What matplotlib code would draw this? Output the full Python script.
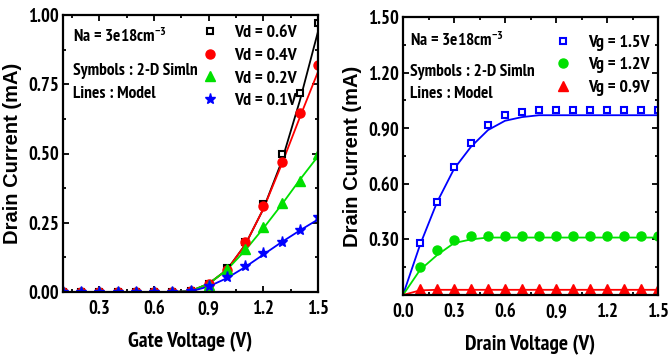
import matplotlib
matplotlib.use("Agg")
import matplotlib.pyplot as plt
from matplotlib.ticker import MultipleLocator, FixedLocator, FormatStrFormatter
from matplotlib import font_manager

# ---------------- data ----------------
vg = [0.1, 0.2, 0.3, 0.4, 0.5, 0.6, 0.7, 0.8, 0.9, 1.0, 1.1, 1.2, 1.3, 1.4, 1.5]
sim_vd06 = [0.0, 0.0, 0.0, 0.0, 0.0, 0.0, 0.0, 0.005, 0.03, 0.085, 0.18, 0.318, 0.50, 0.72, 0.97]
sim_vd04 = [0.0, 0.0, 0.0, 0.0, 0.0, 0.0, 0.0, 0.005, 0.03, 0.08, 0.18, 0.31, 0.47, 0.645, 0.82]
sim_vd02 = [0.0, 0.0, 0.0, 0.0, 0.0, 0.0, 0.0, 0.005, 0.025, 0.083, 0.155, 0.235, 0.32, 0.40, 0.50]
sim_vd01 = [0.0, 0.0, 0.0, 0.0, 0.0, 0.0, 0.0, 0.004, 0.02, 0.055, 0.094, 0.14, 0.18, 0.224, 0.27]
mod_vd06 = [0.0, 0.0, 0.0, 0.0, 0.0, 0.0, 0.0, 0.003, 0.03, 0.08, 0.17, 0.30, 0.47, 0.69, 0.94]
mod_vd04 = [0.0, 0.0, 0.0, 0.0, 0.0, 0.0, 0.0, 0.003, 0.03, 0.08, 0.17, 0.30, 0.46, 0.63, 0.795]
mod_vd02 = [0.0, 0.0, 0.0, 0.0, 0.0, 0.0, 0.0, 0.003, 0.03, 0.08, 0.15, 0.23, 0.315, 0.405, 0.49]
mod_vd01 = [0.0, 0.0, 0.0, 0.0, 0.0, 0.0, 0.0, 0.002, 0.02, 0.05, 0.09, 0.135, 0.18, 0.222, 0.262]

vd_sim = [0.1, 0.2, 0.3, 0.4, 0.5, 0.6, 0.7, 0.8, 0.9, 1.0, 1.1, 1.2, 1.3, 1.4, 1.5]
sim_vg15 = [0.28, 0.50, 0.69, 0.82, 0.915, 0.97, 0.99, 1.0, 1.0, 1.0, 1.0, 1.0, 1.0, 1.0, 1.0]
sim_vg12 = [0.15, 0.245, 0.297, 0.318, 0.32, 0.32, 0.32, 0.32, 0.32, 0.32, 0.32, 0.32, 0.32, 0.32, 0.32]
sim_vg09 = [0.035, 0.035, 0.035, 0.035, 0.035, 0.035, 0.035, 0.035, 0.035, 0.035, 0.035, 0.035, 0.035, 0.035, 0.035]
vd_mod = [0.0, 0.1, 0.2, 0.3, 0.4, 0.5, 0.6, 0.7, 0.8, 0.9, 1.0, 1.1, 1.2, 1.3, 1.4, 1.5]
mod_vg15 = [0.0, 0.27, 0.50, 0.68, 0.80, 0.89, 0.94, 0.96, 0.97, 0.97, 0.97, 0.97, 0.97, 0.97, 0.97, 0.97]
mod_vg12 = [0.0, 0.135, 0.215, 0.28, 0.30, 0.31, 0.31, 0.31, 0.31, 0.31, 0.31, 0.31, 0.31, 0.31, 0.31, 0.31]
mod_vg09 = [0.0, 0.025, 0.028, 0.028, 0.028, 0.028, 0.028, 0.028, 0.028, 0.028, 0.028, 0.028, 0.028, 0.028, 0.028, 0.028]

left_labels = ["Vd = 0.6V", "Vd = 0.4V", "Vd = 0.2V", "Vd = 0.1V"]
right_labels = ["Vg = 1.5V", "Vg = 1.2V", "Vg = 0.9V"]

# ---------------- fonts ----------------
def has_bold(name):
    for f in font_manager.fontManager.ttflist:
        if f.name == name:
            w = f.weight
            if isinstance(w, str):
                if "bold" in w.lower() or w.lower() == "heavy":
                    return True
            elif w >= 600:
                return True
    return False

NARROW_CANDIDATES = ["Liberation Sans Narrow", "Arial Narrow", "Archivo Narrow", "PT Sans Narrow",
                     "Roboto Condensed", "Open Sans Condensed", "Sofia Sans Condensed",
                     "Fira Sans Condensed", "IBM Plex Sans Condensed", "Barlow Semi Condensed"]
narrow = "Liberation Sans"
for c in NARROW_CANDIDATES:
    if has_bold(c):
        narrow = c
        break
NARROW = [narrow, "Liberation Sans", "DejaVu Sans"]
WIDE = ["Liberation Sans", "DejaVu Sans"]
plt.rcParams["font.family"] = NARROW
plt.rcParams["font.weight"] = "bold"
plt.rcParams["mathtext.default"] = "regular"

fig = plt.figure(figsize=(6.7, 3.6), dpi=100)
axL = fig.add_axes([63/670, 1-292/360, 255/670, 277/360])
axR = fig.add_axes([403/670, 1-295/360, 255/670, 278/360])

def style(ax):
    for s in ax.spines.values():
        s.set_linewidth(1.6)
    ax.tick_params(which="both", direction="in", top=True, right=True, width=1.3)
    ax.tick_params(which="major", length=4.5, labelsize=13.5)
    ax.tick_params(which="minor", length=2.5)
    ax.tick_params(axis="y", which="major", pad=3)
    ax.tick_params(axis="x", which="major", pad=6)
    for lab in ax.get_xticklabels() + ax.get_yticklabels():
        lab.set_fontweight("bold")

lw = 1.3
# Left panel
axL.plot(vg, mod_vd06, color="black", lw=lw)
axL.plot(vg, mod_vd04, color="red", lw=lw)
axL.plot(vg, mod_vd02, color="#00e000", lw=lw)
axL.plot(vg, mod_vd01, color="blue", lw=lw)
axL.plot(vg, sim_vd06, ls="none", marker="s", ms=5, mfc="white", mec="black", mew=1.5, label=left_labels[0])
axL.plot(vg, sim_vd04, ls="none", marker="o", ms=6.5, mfc="red", mec="red", label=left_labels[1])
axL.plot(vg, sim_vd02, ls="none", marker="^", ms=7, mfc="#00e000", mec="#00e000", label=left_labels[2])
axL.plot(vg, sim_vd01, ls="none", marker="*", ms=8, mfc="blue", mec="blue", label=left_labels[3])
axL.set_xlim(0.1, 1.5)
axL.set_ylim(0, 1.0)
axL.xaxis.set_major_locator(FixedLocator([0.3, 0.6, 0.9, 1.2, 1.5]))
axL.xaxis.set_minor_locator(MultipleLocator(0.15))
axL.yaxis.set_major_locator(MultipleLocator(0.25))
axL.yaxis.set_minor_locator(MultipleLocator(0.125))
axL.xaxis.set_major_formatter(FormatStrFormatter("%.1f"))
axL.yaxis.set_major_formatter(FormatStrFormatter("%.2f"))
style(axL)
axL.set_xlabel("Gate Voltage (V)", fontsize=15.5, fontweight="bold", labelpad=10)
axL.set_ylabel("Drain Current (mA)", fontsize=14.5, fontweight="bold", family=WIDE, labelpad=4)
axL.legend(loc="upper left", bbox_to_anchor=(0.543, 0.965), frameon=False,
           handlelength=1.0, handletextpad=0.8, labelspacing=0.33, borderpad=0, borderaxespad=0,
           prop={"weight": "bold", "size": 13})
axL.text(0.039, 0.922, "Na = 3e18cm$^{-3}$", transform=axL.transAxes, fontsize=12.5, fontweight="bold", va="center")
axL.text(0.039, 0.798, "Symbols : 2-D Simln", transform=axL.transAxes, fontsize=12.5, fontweight="bold", va="center")
axL.text(0.039, 0.715, "Lines : Model", transform=axL.transAxes, fontsize=12.5, fontweight="bold", va="center")

# Right panel
axR.plot(vd_mod, mod_vg15, color="blue", lw=lw)
axR.plot(vd_mod, mod_vg12, color="#00e000", lw=lw)
axR.plot(vd_mod, mod_vg09, color="red", lw=lw)
axR.plot(vd_sim, sim_vg15, ls="none", marker="s", ms=5, mfc="white", mec="blue", mew=1.5, label=right_labels[0])
axR.plot(vd_sim, sim_vg12, ls="none", marker="o", ms=6.5, mfc="#00e000", mec="#00e000", label=right_labels[1])
axR.plot(vd_sim, sim_vg09, ls="none", marker="^", ms=7.5, mfc="red", mec="red", label=right_labels[2])
axR.set_xlim(0, 1.5)
axR.set_ylim(0, 1.5)
axR.xaxis.set_major_locator(MultipleLocator(0.3))
axR.xaxis.set_minor_locator(MultipleLocator(0.15))
axR.yaxis.set_major_locator(FixedLocator([0.3, 0.6, 0.9, 1.2, 1.5]))
axR.yaxis.set_minor_locator(MultipleLocator(0.15))
axR.xaxis.set_major_formatter(FormatStrFormatter("%.1f"))
axR.yaxis.set_major_formatter(FormatStrFormatter("%.2f"))
style(axR)
axR.set_xlabel("Drain Voltage (V)", fontsize=15.5, fontweight="bold", labelpad=10)
axR.set_ylabel("Drain Current (mA)", fontsize=14.5, fontweight="bold", family=WIDE, labelpad=4)
axR.legend(loc="upper left", bbox_to_anchor=(0.594, 0.938), frameon=False,
           handlelength=1.0, handletextpad=0.85, labelspacing=0.33, borderpad=0, borderaxespad=0,
           prop={"weight": "bold", "size": 13})
axR.text(0.027, 0.914, "Na = 3e18cm$^{-3}$", transform=axR.transAxes, fontsize=12.5, fontweight="bold", va="center")
axR.text(0.027, 0.802, "Symbols : 2-D Simln", transform=axR.transAxes, fontsize=12.5, fontweight="bold", va="center")
axR.text(0.027, 0.723, "Lines : Model", transform=axR.transAxes, fontsize=12.5, fontweight="bold", va="center")

fig.savefig("out.png", dpi=100)
